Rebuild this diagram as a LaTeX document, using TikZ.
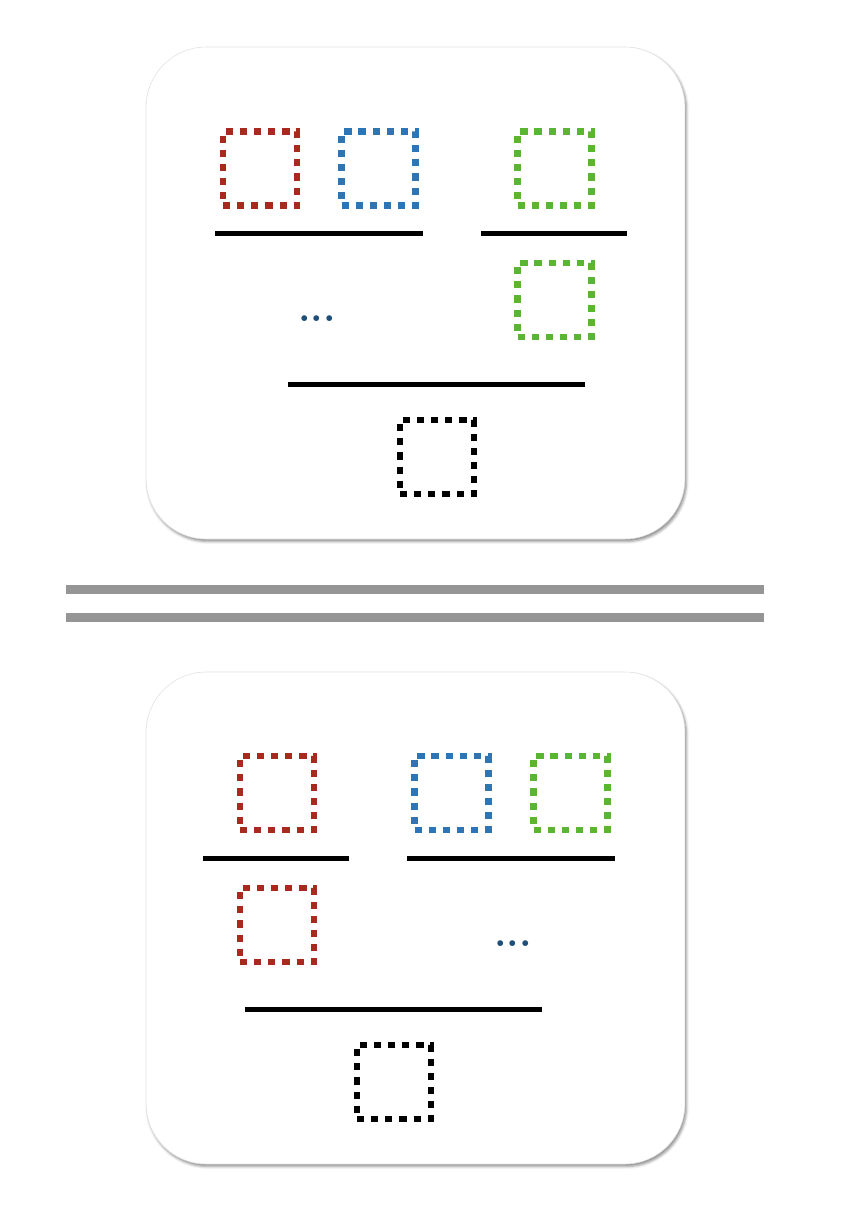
\documentclass[tikz,border=0pt]{standalone}
\usepackage{tikz}
\usetikzlibrary{positioning}
\usetikzlibrary{shadows.blur}
\definecolor{holered}{RGB}{168,41,30}
\definecolor{holeblue}{RGB}{46,117,182}
\definecolor{holegreen}{RGB}{90,182,50}
\definecolor{dotblue}{RGB}{31,78,121}
\definecolor{sepgray}{RGB}{149,149,149}
\tikzstyle{hole}=[draw,dash pattern=on 5.4pt off 5.2pt,line width=5pt,minimum size=55.5pt,inner sep=0pt]
\tikzstyle{panel}=[draw=black!12,fill=white,rounded corners=45pt,minimum width=404pt,minimum height=369pt,
  blur shadow={shadow xshift=1.2pt,shadow yshift=-1.8pt,shadow blur radius=2pt,shadow opacity=45}]

\begin{document}
\begin{tikzpicture}[x=0.75pt,y=-0.75pt]
\tikzstyle{bar}=[line width=3.75pt]
\tikzstyle{dots}=[text=dotblue,inner sep=0pt,font=\fontsize{30}{30}\selectfont\bfseries]
\useasboundingbox (0,0) rectangle (860,1224);

% upper derivation
\node [panel] (up) at (415.5,293) {};
\node [hole,holered] (ured) at (260,168.5) {};
\node [hole,holeblue] (ublue) at (378.5,168.5) {};
\node [hole,holegreen] (ugreen) at (554.5,168.5) {};
\draw [bar] (215,233) -- (423,233);
\draw [bar] (481,233) -- (627,233);
\node [dots] (udots) at (317,319) {...};
\node [hole,holegreen] (ugreenb) at (554.5,300) {};
\draw [bar] (288,384) -- (585,384);
\node [hole,black] (ublack) at (437,457) {};

% separator
\draw [sepgray,line width=6.75pt] (66,589) -- (764,589);
\draw [sepgray,line width=6.75pt] (66,617) -- (764,617);

% lower derivation
\node [panel] (down) at (415.5,918) {};
\node [hole,holered] (lred) at (277,793) {};
\node [hole,holeblue] (lblue) at (451.5,793) {};
\node [hole,holegreen] (lgreen) at (570.5,793) {};
\draw [bar] (203,858) -- (349,858);
\draw [bar] (407,858) -- (615,858);
\node [hole,holered] (lredb) at (277,925) {};
\node [dots] (ldots) at (513,944) {...};
\draw [bar] (245,1009) -- (542,1009);
\node [hole,black] (lblack) at (394,1082) {};
\end{tikzpicture}
\end{document}
